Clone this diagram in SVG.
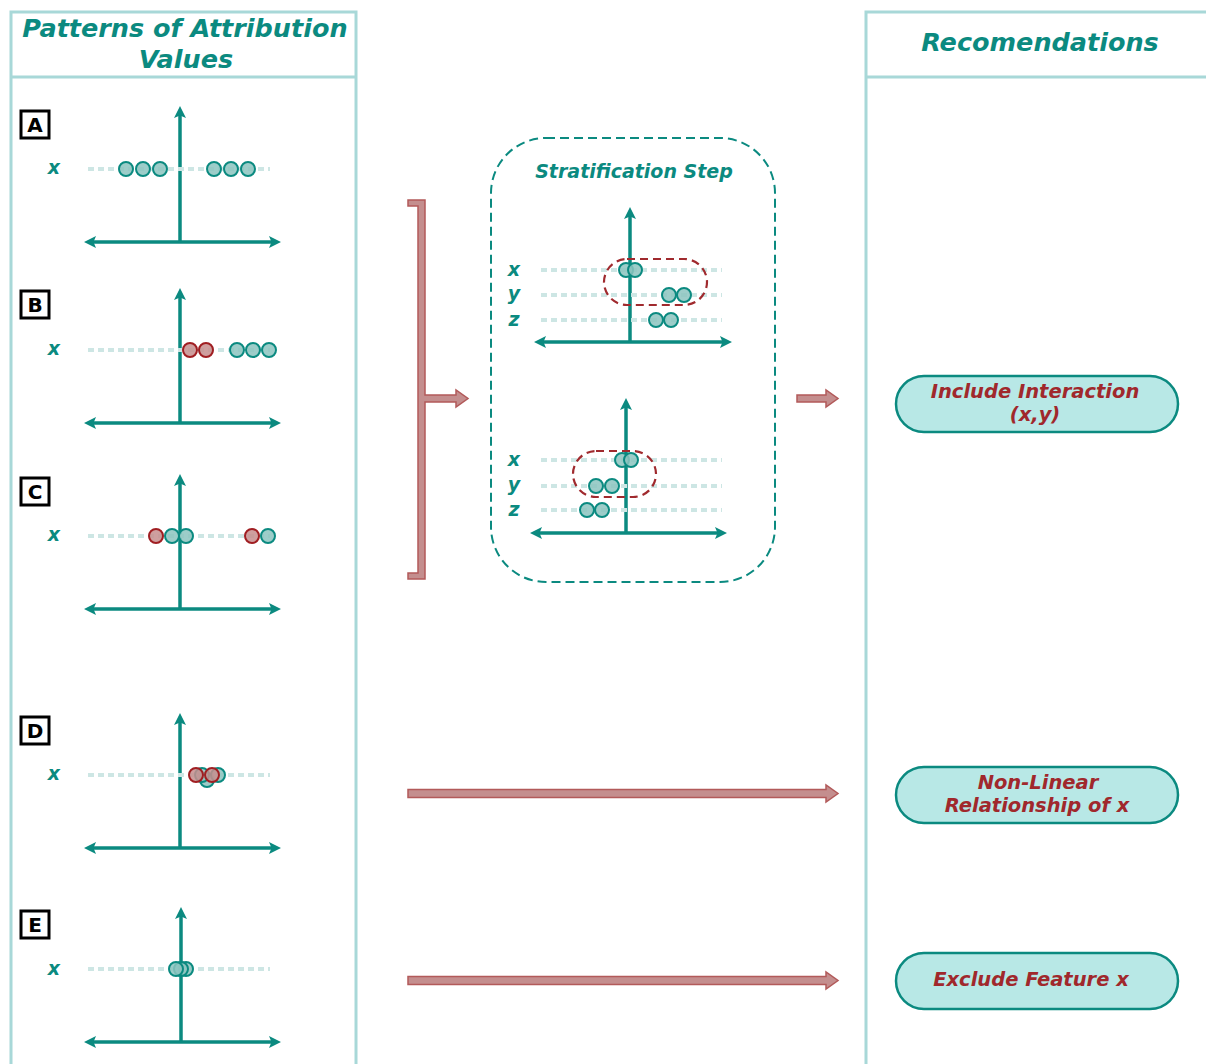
<svg xmlns="http://www.w3.org/2000/svg" width="1206" height="1064" viewBox="0 0 1206 1064">
<style>
.panel{fill:#fff;stroke:#a8d8d8;stroke-width:3}
.title{font-family:"DejaVu Sans",Verdana,sans-serif;font-weight:bold;font-style:italic;fill:#0b8a80;text-anchor:middle}
.axis{stroke:#0b8a80;stroke-width:3.5;fill:none}
.dots{stroke:#cde6e4;stroke-width:4;stroke-dasharray:6 4;stroke-linecap:butt}
.var{font-family:"DejaVu Sans",Verdana,sans-serif;font-weight:bold;font-style:italic;fill:#0b8a80;font-size:19px;text-anchor:middle}
.pt{fill:#8cc4bf;fill-opacity:0.85;stroke:#0b8a80;stroke-width:2}
.rpt{fill:#c78e8e;fill-opacity:0.85;stroke:#a01e22;stroke-width:2}
.lbox{fill:#fff;stroke:#000;stroke-width:3}
.ltxt{font-family:"DejaVu Sans",Verdana,sans-serif;font-weight:bold;font-size:20px;text-anchor:middle;fill:#000}
.oval{fill:none;stroke:#a02a2e;stroke-width:2.2;stroke-dasharray:8 5}
.rarrow{fill:#c48e8e;stroke:#b25a5a;stroke-width:1.5}
.rec{fill:#b8e8e6;stroke:#0b8a80;stroke-width:2.5}
.rtxt{font-family:"DejaVu Sans",Verdana,sans-serif;font-weight:bold;font-style:italic;fill:#a0282c;font-size:19.5px;text-anchor:middle}
</style>
<defs>
<marker id="ah" viewBox="0 0 12 12" refX="7" refY="6" markerWidth="12" markerHeight="12" markerUnits="userSpaceOnUse" orient="auto-start-reverse">
<path d="M0,0 L12,6 L0,12 L2.5,6 Z" fill="#0b8a80"/>
</marker>
</defs>

<g id="panel-left">
<rect class="panel" x="11" y="12" width="345" height="1060"/>
<line x1="11" y1="77" x2="356" y2="77" stroke="#a8d8d8" stroke-width="3"/>
<text class="title" x="185" y="37" font-size="25.5">Patterns of Attribution</text>
<text class="title" x="186" y="68" font-size="25.5">Values</text>
</g>

<g id="panel-right">
<rect class="panel" x="866" y="12" width="350" height="1060"/>
<line x1="866" y1="77" x2="1206" y2="77" stroke="#a8d8d8" stroke-width="3"/>
<text class="title" x="1040" y="51" font-size="25.5">Recomendations</text>
</g>

<g id="plot-A">
<rect class="lbox" x="21" y="111" width="28" height="27"/>
<text class="ltxt" x="35" y="132">A</text>
<line class="axis" x1="180" y1="242" x2="180" y2="111" marker-end="url(#ah)"/>
<line class="axis" x1="89" y1="242" x2="276" y2="242" marker-start="url(#ah)" marker-end="url(#ah)"/>
<text class="var" x="54" y="174">x</text>
<line class="dots" x1="88" y1="169" x2="270" y2="169"/>
<circle class="pt" cx="126" cy="169" r="7"/><circle class="pt" cx="143" cy="169" r="7"/><circle class="pt" cx="160" cy="169" r="7"/>
<circle class="pt" cx="214" cy="169" r="7"/><circle class="pt" cx="231" cy="169" r="7"/><circle class="pt" cx="248" cy="169" r="7"/>
</g>

<g id="plot-B">
<rect class="lbox" x="21" y="291" width="28" height="27"/>
<text class="ltxt" x="35" y="312">B</text>
<line class="axis" x1="180" y1="423" x2="180" y2="293" marker-end="url(#ah)"/>
<line class="axis" x1="89" y1="423" x2="276" y2="423" marker-start="url(#ah)" marker-end="url(#ah)"/>
<text class="var" x="54" y="355">x</text>
<line class="dots" x1="88" y1="350" x2="270" y2="350"/>
<circle class="rpt" cx="190" cy="350" r="7"/><circle class="rpt" cx="206" cy="350" r="7"/>
<circle class="pt" cx="237" cy="350" r="7"/><circle class="pt" cx="253" cy="350" r="7"/><circle class="pt" cx="269" cy="350" r="7"/>
</g>

<g id="plot-C">
<rect class="lbox" x="21" y="478" width="28" height="27"/>
<text class="ltxt" x="35" y="499">C</text>
<line class="axis" x1="180" y1="609" x2="180" y2="479" marker-end="url(#ah)"/>
<line class="axis" x1="89" y1="609" x2="276" y2="609" marker-start="url(#ah)" marker-end="url(#ah)"/>
<text class="var" x="54" y="541">x</text>
<line class="dots" x1="88" y1="536" x2="270" y2="536"/>
<circle class="rpt" cx="156" cy="536" r="7"/><circle class="pt" cx="172" cy="536" r="7"/><circle class="pt" cx="186" cy="536" r="7"/>
<circle class="rpt" cx="252" cy="536" r="7"/><circle class="pt" cx="268" cy="536" r="7"/>
</g>

<g id="plot-D">
<rect class="lbox" x="21" y="717" width="28" height="27"/>
<text class="ltxt" x="35" y="738">D</text>
<line class="axis" x1="180" y1="848" x2="180" y2="718" marker-end="url(#ah)"/>
<line class="axis" x1="89" y1="848" x2="276" y2="848" marker-start="url(#ah)" marker-end="url(#ah)"/>
<text class="var" x="54" y="780">x</text>
<line class="dots" x1="88" y1="775" x2="270" y2="775"/>
<circle class="pt" cx="207" cy="780" r="7"/><circle class="pt" cx="202" cy="775" r="7"/><circle class="pt" cx="218" cy="775" r="7"/>
<circle class="rpt" cx="196" cy="775" r="7"/><circle class="rpt" cx="212" cy="775" r="7"/>
</g>

<g id="plot-E">
<rect class="lbox" x="21" y="911" width="28" height="27"/>
<text class="ltxt" x="35" y="932">E</text>
<line class="axis" x1="181" y1="1042" x2="181" y2="912" marker-end="url(#ah)"/>
<line class="axis" x1="89" y1="1042" x2="276" y2="1042" marker-start="url(#ah)" marker-end="url(#ah)"/>
<text class="var" x="54" y="975">x</text>
<line class="dots" x1="88" y1="969" x2="270" y2="969"/>
<circle class="pt" cx="186" cy="969" r="7"/><circle class="pt" cx="181" cy="969" r="7"/><circle class="pt" cx="176" cy="969" r="7"/>
</g>

<g id="stratification">
<rect x="491" y="138" width="284" height="444" rx="55" ry="55" fill="none" stroke="#0b8a80" stroke-width="2" stroke-dasharray="9 5"/>
<text class="title" x="634" y="178" font-size="19">Stratification Step</text>
<line class="axis" x1="630" y1="342" x2="630" y2="212" marker-end="url(#ah)"/>
<line class="axis" x1="539" y1="342" x2="727" y2="342" marker-start="url(#ah)" marker-end="url(#ah)"/>
<line class="dots" x1="541" y1="270" x2="722" y2="270"/>
<line class="dots" x1="541" y1="295" x2="722" y2="295"/>
<line class="dots" x1="541" y1="320" x2="722" y2="320"/>
<text class="var" x="514" y="276">x</text>
<text class="var" x="514" y="300">y</text>
<text class="var" x="514" y="326">z</text>
<circle class="pt" cx="626" cy="270" r="7"/><circle class="pt" cx="635" cy="270" r="7"/>
<circle class="pt" cx="669" cy="295" r="7"/><circle class="pt" cx="684" cy="295" r="7"/>
<circle class="pt" cx="656" cy="320" r="7"/><circle class="pt" cx="671" cy="320" r="7"/>
<rect class="oval" x="604" y="259" width="103" height="46" rx="23" ry="23"/>

<line class="axis" x1="626" y1="533" x2="626" y2="403" marker-end="url(#ah)"/>
<line class="axis" x1="535" y1="533" x2="722" y2="533" marker-start="url(#ah)" marker-end="url(#ah)"/>
<line class="dots" x1="541" y1="460" x2="722" y2="460"/>
<line class="dots" x1="541" y1="486" x2="722" y2="486"/>
<line class="dots" x1="541" y1="510" x2="722" y2="510"/>
<text class="var" x="514" y="466">x</text>
<text class="var" x="514" y="491">y</text>
<text class="var" x="514" y="516">z</text>
<circle class="pt" cx="622" cy="460" r="7"/><circle class="pt" cx="631" cy="460" r="7"/>
<circle class="pt" cx="596" cy="486" r="7"/><circle class="pt" cx="612" cy="486" r="7"/>
<circle class="pt" cx="587" cy="510" r="7"/><circle class="pt" cx="602" cy="510" r="7"/>
<rect class="oval" x="573" y="451" width="83" height="46" rx="23" ry="23"/>
</g>

<g id="rec-interaction">
<rect class="rec" x="896" y="376" width="282" height="56" rx="28" ry="28"/>
<text class="rtxt" x="1035" y="398">Include Interaction</text>
<text class="rtxt" x="1035" y="421">(x,y)</text>
</g>
<g id="rec-nonlinear">
<rect class="rec" x="896" y="767" width="282" height="56" rx="28" ry="28"/>
<text class="rtxt" x="1038" y="789">Non-Linear</text>
<text class="rtxt" x="1037" y="812">Relationship of x</text>
</g>
<g id="rec-exclude">
<rect class="rec" x="896" y="953" width="282" height="56" rx="28" ry="28"/>
<text class="rtxt" x="1031" y="986">Exclude Feature x</text>
</g>

<g id="connectors">
<path class="rarrow" d="M408,200 L425,200 L425,395 L456,395 L456,390 L468,398.5 L456,407 L456,402 L425,402 L425,579 L408,579 L408,573 L418,573 L418,206 L408,206 Z"/>
<path class="rarrow" d="M797,395 L826,395 L826,390 L838,398.5 L826,407 L826,402 L797,402 Z"/>
<path class="rarrow" d="M408,789.5 L826,789.5 L826,785 L838,793.5 L826,802 L826,797.5 L408,797.5 Z"/>
<path class="rarrow" d="M408,976.5 L826,976.5 L826,972 L838,980.5 L826,989 L826,984.5 L408,984.5 Z"/>
</g>
</svg>
